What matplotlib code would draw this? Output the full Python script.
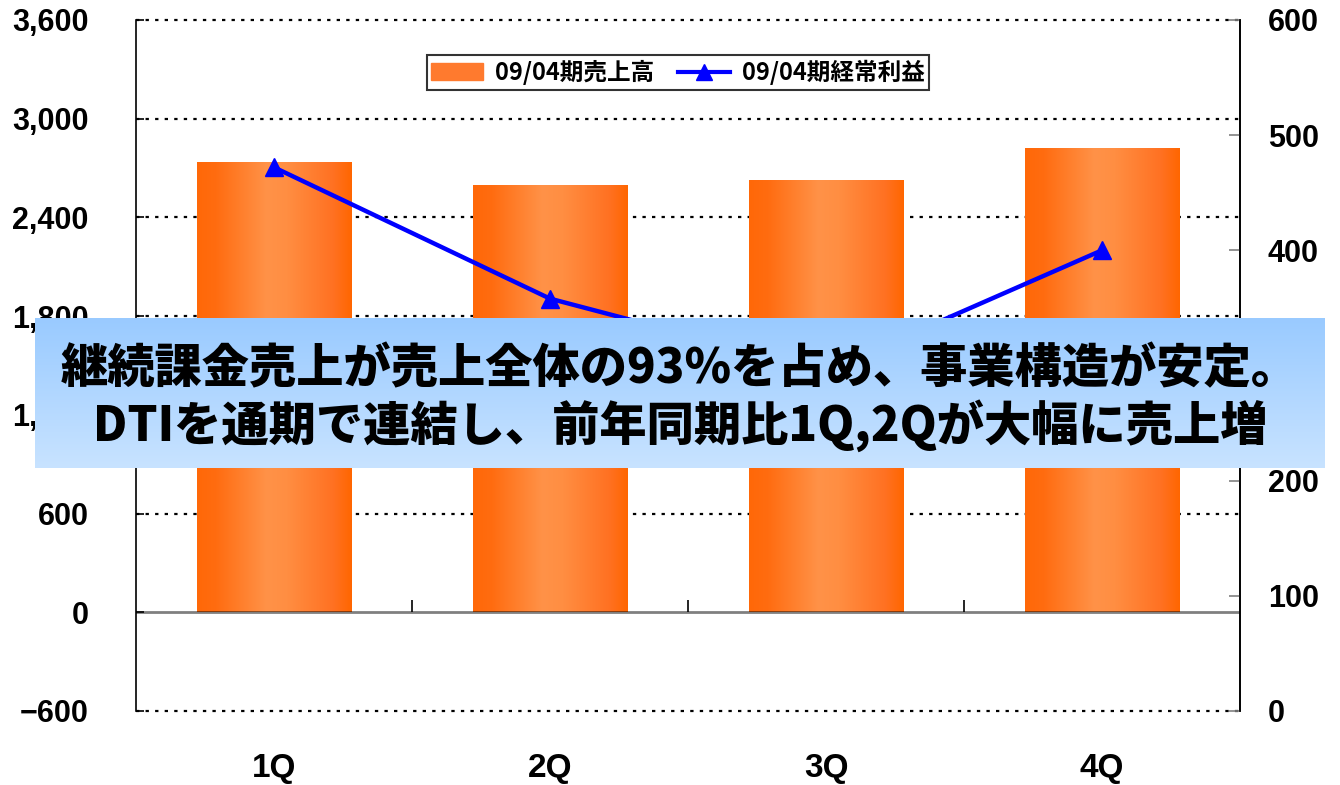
import numpy as np
import matplotlib
matplotlib.use("Agg")
import matplotlib.pyplot as plt
from matplotlib.colors import LinearSegmentedColormap
from matplotlib.ticker import FuncFormatter

plt.rcParams['font.family'] = ['Liberation Sans', 'Noto Sans CJK JP', 'DejaVu Sans']

# data
quarters = ['1Q', '2Q', '3Q', '4Q']
sales = [2735, 2595, 2625, 2820]        # 09/04期売上高 (left axis)
profit = [472, 358, 295, 400]           # 09/04期経常利益 (right axis)
left_ticks = [-600, 0, 600, 1200, 1800, 2400, 3000, 3600]
right_ticks = [0, 100, 200, 300, 400, 500, 600]
sales_label = '09/04期売上高'
profit_label = '09/04期経常利益'
note_lines = ['継続課金売上が売上全体の93%を占め、事業構造が安定。',
              'DTIを通期で連結し、前年同期比1Q,2Qが大幅に売上増']

fig = plt.figure(figsize=(13.4, 7.85), dpi=100)
ax = fig.add_axes([0.1015, 0.0943, 0.8239, 0.8803])
x = np.arange(len(quarters))

# orange bars with horizontal gradient
bar_cmap = LinearSegmentedColormap.from_list('bar', [
    (0.0, '#FF6808'), (0.12, '#FF6C10'), (0.45, '#FF9248'),
    (0.58, '#FF8E42'), (0.88, '#FF7122'), (1.0, '#FF6600')])
grad = np.linspace(0, 1, 256).reshape(1, -1)
bars = ax.bar(x, sales, width=0.56, color='#FF7A2E', zorder=2)
for b in bars:
    x0, y0 = b.get_x(), b.get_y()
    ax.imshow(grad, extent=[x0, x0 + b.get_width(), y0, y0 + b.get_height()],
              aspect='auto', cmap=bar_cmap, zorder=2.5)

ax.set_xlim(-0.5, len(quarters) - 0.5)
ax.set_ylim(left_ticks[0], left_ticks[-1])
ax.set_yticks(left_ticks)
ax.yaxis.set_major_formatter(FuncFormatter(lambda v, p: f'{int(v):,}'.replace('-', '\u2212')))

# dotted grid at left ticks (incl. top/bottom)
for t in left_ticks:
    if t != 0:
        ax.axhline(t, color='black', lw=1.6, ls=(0, (1.5, 2.8)), zorder=1, clip_on=False)
ax.axhline(0, color='black', alpha=0.5, lw=2, zorder=3)
ax.vlines(x[:-1] + 0.5, 0, 75, color='black', lw=1.2, zorder=3)

ax.spines['top'].set_visible(False)
ax.spines['bottom'].set_visible(False)
ax.spines['left'].set_linewidth(1.2)
ax.spines['right'].set_linewidth(1.2)
ax.set_xticks(x)
ax.set_xticklabels(quarters)
ax.tick_params(axis='x', length=0, pad=30, labelsize=24)
ax.tick_params(axis='y', direction='in', length=6, width=1.2, pad=34, labelsize=22)
for lab in ax.get_xticklabels() + ax.get_yticklabels():
    lab.set_fontweight('bold')

# profit line on right axis
ax2 = ax.twinx()
ax2.plot(x, profit, color='#0000FF', lw=3.2, marker='^', ms=13, zorder=5)
ax2.set_ylim(right_ticks[0], right_ticks[-1])
ax2.set_yticks(right_ticks)
ax2.tick_params(axis='y', direction='in', length=8, width=1.2, color='#808080',
                pad=20, labelsize=22)
for lab in ax2.get_yticklabels():
    lab.set_fontweight('bold')
for s in ['top', 'bottom', 'left']:
    ax2.spines[s].set_visible(False)
ax2.spines['right'].set_linewidth(1.2)

# legend
handles = [plt.Rectangle((0, 0), 1, 1, color='#FF7A2E'),
           plt.Line2D([], [], color='#0000FF', lw=3, marker='^', ms=11)]
leg = fig.legend(handles, [sales_label, profit_label], loc='upper center',
                 bbox_to_anchor=(0.506, 0.945), ncol=2, frameon=True, fancybox=False,
                 prop={'family': ['Noto Sans CJK JP'], 'weight': 'bold', 'size': 17},
                 handlelength=2.2, columnspacing=1.0, handletextpad=0.5,
                 borderpad=0.2, edgecolor='black')
leg.get_frame().set_linewidth(1.5)

# overlay note box with vertical blue gradient
box = fig.add_axes([35 / 1340, 1 - 468 / 785, 1290 / 1340, 150 / 785], zorder=10)
box_cmap = LinearSegmentedColormap.from_list('box', ['#C8E3FF', '#99CAFF'])
box.imshow(np.linspace(0, 1, 256).reshape(-1, 1)[::-1], aspect='auto', cmap=box_cmap,
           extent=[0, 1, 0, 1])
box.set_xlim(0, 1)
box.set_ylim(0, 1)
box.axis('off')
box.text(0.5, 0.66, note_lines[0], ha='center', va='center', fontsize=34,
         fontweight='black', family=['Noto Sans CJK JP'], color='black')
box.text(0.5, 0.28, note_lines[1], ha='center', va='center', fontsize=34,
         fontweight='black', family=['Noto Sans CJK JP'], color='black')

fig.savefig('out.png', dpi=100)
